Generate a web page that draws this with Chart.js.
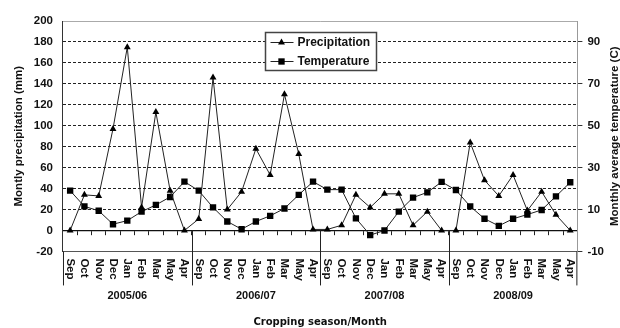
<!DOCTYPE html>
<html>
<head>
<meta charset="utf-8">
<script src="https://cdn.jsdelivr.net/npm/chart.js@4.4.1/dist/chart.umd.min.js"></script>
<style>
    html, body { margin: 0; padding: 0; background: #fff; }
</style>
</head>
<body>
<canvas id="chart" width="620" height="328"></canvas>
<script>
// months as printed on the original axis (May before Apr is in the source)
const months = ["Sep", "Oct", "Nov", "Dec", "Jan", "Feb", "Mar", "May", "Apr"];
const seasons = ["2005/06", "2006/07", "2007/08", "2008/09"];

// monthly precipitation (mm), one array per cropping season
const precip0506 = [0, 34, 33, 97, 175, 22, 113, 38, 0];
const precip0607 = [11, 146, 20, 37, 78, 53, 130, 73, 1];
const precip0708 = [1, 5, 34, 22, 35, 35, 5, 18, 0];
const precip0809 = [0, 84, 48, 33, 53, 19, 37, 15, 0];

// monthly average temperature (C)
const temp0506 = [19, 11.5, 9.4, 3, 4.7, 9, 12.2, 16, 23.3];
const temp0607 = [19, 11, 4.3, 0.6, 4.3, 7, 10.5, 17, 23.3];
const temp0708 = [19.5, 19.5, 5.8, -2.2, 0, 9, 15.7, 18.2, 23.2];
const temp0809 = [19.3, 11.5, 5.6, 2.2, 5.6, 7.6, 9.8, 16.3, 23];

const tempTicks = [-10, 10, 30, 50, 70, 90];

const monthLabels = seasons.flatMap(() => months);
const precipitation = [...precip0506, ...precip0607, ...precip0708, ...precip0809];
const temperature = [...temp0506, ...temp0607, ...temp0708, ...temp0809];

const SANS = "'Liberation Sans', Arial, sans-serif";
const tickFont = { family: SANS, size: 11.5, weight: "bold" };
const MONTH_PAD = 7;

/* season dividers, axis extensions, downward month labels, right-hand title */
const seasonDividers = {
    id: "seasonDividers",
    afterDraw(chart) {
        const { ctx, chartArea, scales } = chart;
        const x = scales.x, y = scales.y, y1 = scales.y1;
        const y0 = y.getPixelForValue(0);
        const yEnd = chartArea.bottom + 34;

        ctx.save();
        ctx.strokeStyle = "#222";
        ctx.lineWidth = 1;
        ctx.beginPath();
        for (let s = 1; s < seasons.length; s++) {
            const i = s * months.length;
            const px = Math.round((x.getPixelForValue(i - 1) + x.getPixelForValue(i)) / 2) + 0.5;
            ctx.moveTo(px, y0);
            ctx.lineTo(px, yEnd);
        }
        ctx.moveTo(chartArea.left + 0.5, chartArea.bottom);
        ctx.lineTo(chartArea.left + 0.5, yEnd);
        ctx.moveTo(chartArea.right - 0.5, chartArea.bottom);
        ctx.lineTo(chartArea.right - 0.5, yEnd);
        ctx.stroke();

        // month labels read top-to-bottom
        ctx.fillStyle = "#111";
        ctx.font = "bold 11.5px " + SANS;
        ctx.textAlign = "left";
        ctx.textBaseline = "middle";
        x.ticks.forEach((t, i) => {
            ctx.save();
            ctx.translate(x.getPixelForTick(i), x.top + MONTH_PAD);
            ctx.rotate(Math.PI / 2);
            ctx.fillText(x.getLabelForValue(t.value), 0, 0);
            ctx.restore();
        });

        // right title reads bottom-to-top like the left one
        ctx.translate((y1.right + chart.width) / 2, (chartArea.top + chartArea.bottom) / 2);
        ctx.rotate(-Math.PI / 2);
        ctx.font = "bold 11.5px " + SANS;
        ctx.textAlign = "center";
        ctx.fillText("Monthly average temperature (C)", 0, 0);
        ctx.restore();
    }
};

/* boxed legend inside the plot */
const boxLegend = {
    id: "boxLegend",
    afterDatasetsDraw(chart) {
        const { ctx, chartArea } = chart;
        const w = 111, h = 38;
        const left = Math.round((chartArea.left + chartArea.right) / 2 - w / 2) + 0.5;
        const top = chartArea.top + 11.5;

        ctx.save();
        ctx.fillStyle = "#fff";
        ctx.fillRect(left, top, w, h);
        ctx.strokeStyle = "#444";
        ctx.lineWidth = 1.5;
        ctx.strokeRect(left, top, w, h);

        chart.data.datasets.forEach((ds, i) => {
            const cy = top + 10 + i * 19;
            ctx.strokeStyle = "#222";
            ctx.lineWidth = 1;
            ctx.beginPath();
            ctx.moveTo(left + 5, cy);
            ctx.lineTo(left + 28, cy);
            ctx.stroke();
            ctx.fillStyle = "#000";
            Chart.helpers.drawPoint(ctx, {
                pointStyle: ds.pointStyle, radius: ds.pointRadius, rotation: 0, borderWidth: 0
            }, left + 16, cy);
            ctx.fillStyle = "#111";
            ctx.font = "bold 12px " + SANS;
            ctx.textBaseline = "middle";
            ctx.fillText(ds.label, left + 32, cy + 0.5);
        });
        ctx.restore();
    }
};

const ctx = document.getElementById("chart").getContext("2d");
const chart = new Chart(ctx, {
    type: "line",
    data: {
        labels: monthLabels,
        datasets: [
            {
                label: "Precipitation",
                data: precipitation,
                yAxisID: "y",
                xAxisID: "x",
                borderColor: "#222",
                borderWidth: 1,
                pointStyle: "triangle",
                pointRadius: 4,
                pointBackgroundColor: "#000",
                pointBorderColor: "#000",
                pointBorderWidth: 0,
                tension: 0
            },
            {
                label: "Temperature",
                data: temperature,
                yAxisID: "y1",
                xAxisID: "x",
                borderColor: "#222",
                borderWidth: 1,
                pointStyle: "rect",
                pointRadius: 4.5,
                pointBackgroundColor: "#000",
                pointBorderColor: "#000",
                pointBorderWidth: 0,
                tension: 0
            }
        ]
    },
    options: {
        responsive: false,
        animation: false,
        devicePixelRatio: 1,
        layout: { padding: { top: 21, left: 10, right: 11, bottom: 0 } },
        plugins: {
            legend: { display: false },
            tooltip: { enabled: false }
        },
        scales: {
            x: {
                axis: "x",
                type: "category",
                position: "bottom",
                offset: true,
                grid: { display: false, drawTicks: false },
                border: { display: true, color: "#555", width: 1 },
                // labels are painted by the plugin (reading downward); this keeps their space
                ticks: {
                    autoSkip: false, minRotation: 90, maxRotation: 90,
                    padding: MONTH_PAD, color: "rgba(0,0,0,0)", font: tickFont
                }
            },
            xZero: {
                axis: "x",
                type: "category",
                position: { y: 0 },
                offset: true,
                grid: {
                    offset: true, drawOnChartArea: false, drawTicks: true,
                    tickLength: 4, color: "#222"
                },
                border: { display: true, color: "#111", width: 1.2 },
                ticks: { display: false }
            },
            season: {
                axis: "x",
                type: "category",
                labels: seasons,
                position: "bottom",
                weight: 1,
                offset: true,
                grid: { display: false, drawTicks: false },
                border: { display: false },
                ticks: { padding: 2, color: "#111", font: { family: SANS, size: 11, weight: "bold" } },
                title: {
                    display: true,
                    text: "Cropping season/Month",
                    color: "#111",
                    font: { family: "'DejaVu Sans', sans-serif", size: 10, weight: "bold" },
                    padding: { top: 11, bottom: 0 }
                }
            },
            y: {
                position: "left",
                min: -20,
                max: 200,
                ticks: { stepSize: 20, padding: 10, color: "#111", font: tickFont },
                grid: {
                    drawTicks: false,
                    lineWidth: 1,
                    color: c => {
                        const v = c.tick ? c.tick.value : null;
                        if (v === 200) return "#aaa";
                        if (v === -20) return "#555";
                        return "#222";
                    }
                },
                border: {
                    color: "#333",
                    width: 1,
                    dash: c => (c.tick && ![-20, 0, 200].includes(c.tick.value)) ? [3, 2] : []
                },
                title: {
                    display: true,
                    text: "Montly precipitation (mm)",
                    color: "#111",
                    font: { family: SANS, size: 11.5, weight: "bold" },
                    padding: { top: 2, bottom: -2 }
                }
            },
            y1: {
                position: "right",
                min: -10,
                max: 100,
                afterBuildTicks: scale => {
                    scale.ticks = tempTicks.map(v => ({ value: v }));
                },
                grid: {
                    drawOnChartArea: false, drawTicks: true,
                    tickLength: 5, color: "#333"
                },
                border: { color: "#999", width: 1 },
                ticks: { padding: 5, color: "#111", font: tickFont }
            }
        }
    },
    plugins: [seasonDividers, boxLegend]
});
</script>
</body>
</html>
